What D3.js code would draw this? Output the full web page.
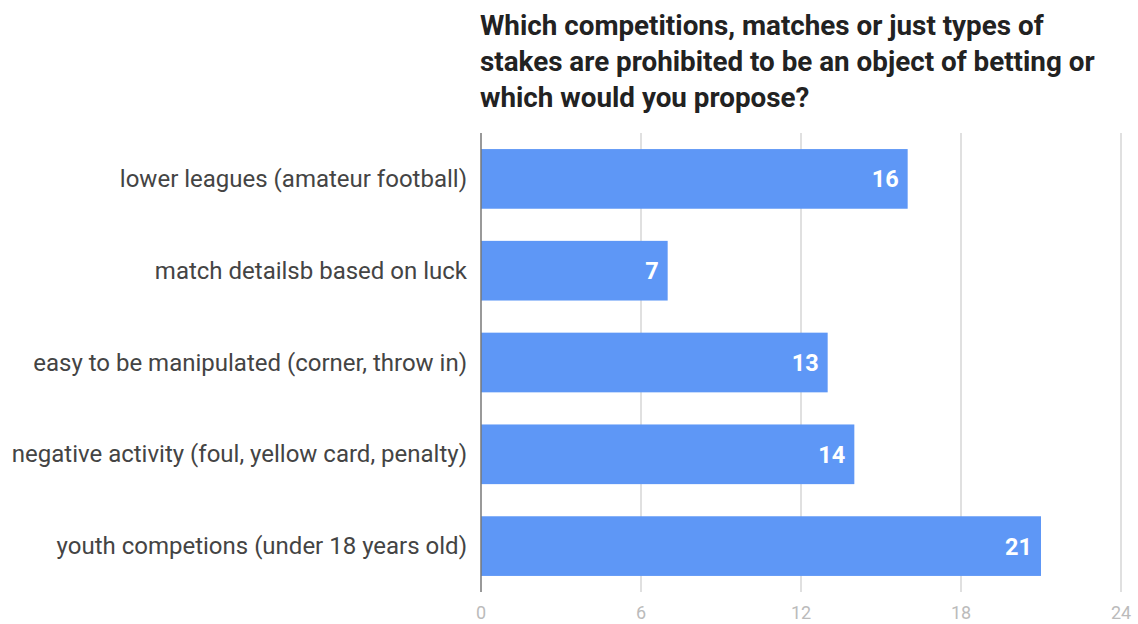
<!DOCTYPE html>
<html>
<head>
<meta charset="utf-8">
<script src="https://cdn.jsdelivr.net/npm/d3@7"></script>
<style>
  body { margin: 0; background: #fff; }
  text { font-family: Roboto, sans-serif; }
</style>
</head>
<body>
<svg width="1138" height="624"></svg>
<script>
// dados do gráfico
const titleLines = [
  "Which competitions, matches or just types of",
  "stakes are prohibited to be an object of betting or",
  "which would you propose?"
];
const categories = [
  "lower leagues (amateur football)",
  "match detailsb based on luck",
  "easy to be manipulated (corner, throw in)",
  "negative activity (foul, yellow card, penalty)",
  "youth competions (under 18 years old)"
];
const values = [16, 7, 13, 14, 21];
const xTicks = [0, 6, 12, 18, 24];

const svg = d3.select("svg");
const x = d3.scaleLinear().domain([0, 24]).range([481, 1121]);
const y = d3.scaleBand().domain(categories).range([133, 592])
  .paddingInner(0.35).paddingOuter(0.175);

// título
svg.selectAll(".title")
  .data(titleLines)
  .enter()
  .append("text")
  .attr("class", "title")
  .attr("x", 480)
  .attr("y", (d, i) => 35 + i * 36)
  .attr("font-size", 27.8)
  .attr("font-weight", "bold")
  .attr("fill", "#222")
  .text(d => d);

// linhas de grade
svg.selectAll(".grid")
  .data(xTicks.slice(1))
  .enter()
  .append("line")
  .attr("x1", d => x(d)).attr("x2", d => x(d))
  .attr("y1", 133).attr("y2", 592)
  .attr("stroke", "#e0e0e0").attr("stroke-width", 2);

// barras
svg.selectAll(".bar")
  .data(values)
  .enter()
  .append("rect")
  .attr("x", x(0))
  .attr("y", (d, i) => y(categories[i]))
  .attr("width", d => x(d) - x(0))
  .attr("height", y.bandwidth())
  .attr("fill", "#5e97f6");

// linha do zero
svg.append("line")
  .attr("x1", x(0)).attr("x2", x(0))
  .attr("y1", 133).attr("y2", 592)
  .attr("stroke", "#777").attr("stroke-width", 1.5);

// valores dentro das barras
svg.selectAll(".val")
  .data(values)
  .enter()
  .append("text")
  .attr("x", d => x(d) - 9)
  .attr("y", (d, i) => y(categories[i]) + y.bandwidth() / 2 + 8.5)
  .attr("text-anchor", "end")
  .attr("font-size", 23.5)
  .attr("font-weight", "bold")
  .attr("fill", "#fff")
  .text(d => d);

// rótulos das categorias
svg.selectAll(".cat")
  .data(categories)
  .enter()
  .append("text")
  .attr("x", 467)
  .attr("y", d => y(d) + y.bandwidth() / 2 + 8)
  .attr("text-anchor", "end")
  .attr("font-size", 24)
  .attr("fill", "#444")
  .text(d => d);

// eixo x (rótulos)
svg.selectAll(".tick")
  .data(xTicks)
  .enter()
  .append("text")
  .attr("x", d => x(d))
  .attr("y", 619)
  .attr("text-anchor", "middle")
  .attr("font-size", 18)
  .attr("fill", "#bbb")
  .text(d => d);
</script>
</body>
</html>
